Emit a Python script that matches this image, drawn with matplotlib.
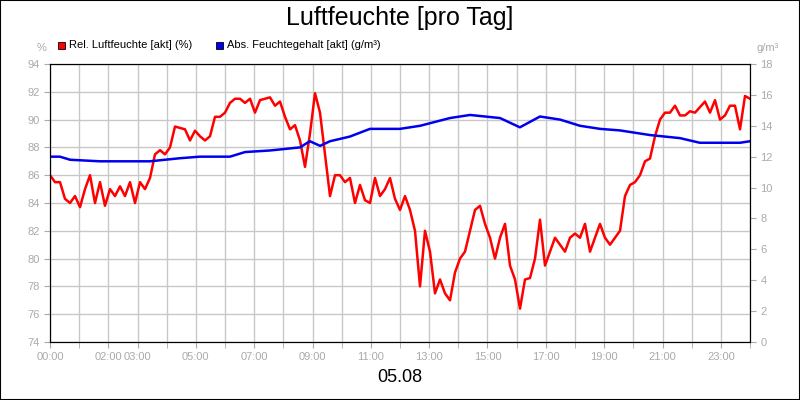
import numpy as np
import matplotlib.pyplot as plt
from matplotlib.patches import Rectangle

plt.rcParams.update({"font.family": "Liberation Sans", "font.size": 8})

rel_feuchte = [
    86.0, 85.5, 85.5, 84.3, 84.0, 84.5, 83.7, 85.0, 86.0, 84.0,
    85.5, 83.8, 85.0, 84.5, 85.2, 84.5, 85.5, 84.0, 85.5, 85.0,
    85.8, 87.5, 87.8, 87.5, 88.0, 89.5, 89.4, 89.3, 88.5, 89.2,
    88.8, 88.5, 88.8, 90.2, 90.2, 90.5, 91.2, 91.5, 91.5, 91.2,
    91.5, 90.5, 91.4, 91.5, 91.6, 91.0, 91.3, 90.2, 89.3, 89.6,
    88.5, 86.6, 89.0, 91.9, 90.5, 87.5, 84.5, 86.0, 86.0, 85.5,
    85.8, 84.0, 85.3, 84.2, 84.0, 85.8, 84.5, 85.0, 85.8, 84.3,
    83.5, 84.5, 83.5, 82.0, 78.0, 82.0, 80.5, 77.5, 78.5, 77.5,
    77.0, 79.0, 80.0, 80.5, 82.0, 83.5, 83.8, 82.5, 81.5, 80.0,
    81.5, 82.5, 79.5, 78.5, 76.4, 78.5, 78.6, 80.0, 82.8, 79.5,
    80.5, 81.5, 81.0, 80.5, 81.5, 81.8, 81.5, 82.5, 80.5, 81.5,
    82.5, 81.5, 81.0, 81.5, 82.0, 84.5, 85.3, 85.5, 86.0, 87.0,
    87.2, 88.8, 90.0, 90.5, 90.5, 91.0, 90.3, 90.3, 90.6, 90.5,
    90.9, 91.3, 90.5, 91.4, 90.0, 90.3, 91.0, 91.0, 89.3, 91.7,
    91.5,
]
rel_zeit = np.linspace(0, 24, len(rel_feuchte))

abs_zeit = [0, 0.34, 0.69, 1.71, 3.43, 4.46, 5.14, 6.17, 6.69, 7.54, 8.57,
            8.91, 9.26, 9.6, 10.28, 10.97, 12.0, 12.69, 13.71, 14.4, 15.43,
            16.11, 16.8, 17.49, 18.17, 18.86, 19.54, 20.57, 21.6, 22.28,
            22.97, 23.66, 24.0]
abs_feuchte = [12.0, 12.0, 11.8, 11.7, 11.7, 11.9, 12.0, 12.0, 12.3, 12.4,
               12.6, 13.0, 12.7, 13.0, 13.3, 13.8, 13.8, 14.0, 14.5, 14.7,
               14.5, 13.9, 14.6, 14.4, 14.0, 13.8, 13.7, 13.4, 13.2, 12.9,
               12.9, 12.9, 13.0]

tick_stunden = [0, 2, 3, 5, 7, 9, 11, 13, 15, 17, 19, 21, 23]
tick_labels = [f"{h:02d}:00" for h in tick_stunden]

gray = "#aaaaaa"
fig = plt.figure(figsize=(8, 4), dpi=100)
fig.patches.append(Rectangle((0, 0), 1, 1, transform=fig.transFigure,
                             fill=False, ec="black", lw=1.5))
ax = fig.add_axes([50 / 800, 58 / 400, 700 / 800, 278 / 400])
ax2 = ax.twinx()

ax.plot(rel_zeit, rel_feuchte, color="#ff0000", lw=1.8, zorder=3)
ax2.plot(abs_zeit, abs_feuchte, color="#0000ee", lw=1.8)

ax.set_xlim(0, 24)
ax.set_ylim(74, 94)
ax2.set_ylim(0, 18)
ax.set_yticks(range(74, 95, 2))
ax2.set_yticks(range(0, 19, 2))
ax.set_xticks(range(0, 25), minor=True)
ax.set_xticks(tick_stunden)
ax.set_xticklabels(tick_labels)
ax.grid(True, which="both", axis="x", color="#c8c8c8", lw=1)
ax.grid(True, axis="y", color="#c8c8c8", lw=1)
ax.set_axisbelow(True)
for a in (ax, ax2):
    a.tick_params(colors=gray, labelcolor=gray, labelsize=8, length=4, which="both")
    for s in a.spines.values():
        s.set_color("black")
ax.tick_params(which="minor", length=4)

fig.text(0.5, 0.955, "Luftfeuchte [pro Tag]", ha="center", va="center", fontsize=18)
fig.text(0.5, 0.055, "05.08", ha="center", va="center", fontsize=13)
fig.text(42 / 800, 1 - 48 / 400, "%", ha="center", va="center", color=gray, fontsize=8)
fig.text(768 / 800, 1 - 48 / 400, "g/m³", ha="center", va="center", color=gray, fontsize=8)

fig.patches.append(Rectangle((58 / 800, 1 - 49 / 400), 7 / 800, 7 / 400,
                             transform=fig.transFigure, fc="#ff0000", ec="black", lw=0.6))
fig.text(69 / 800, 1 - 45 / 400, "Rel. Luftfeuchte [akt] (%)", va="center", fontsize=8)
fig.patches.append(Rectangle((216 / 800, 1 - 49 / 400), 7 / 800, 7 / 400,
                             transform=fig.transFigure, fc="#0000ee", ec="black", lw=0.6))
fig.text(227 / 800, 1 - 45 / 400, "Abs. Feuchtegehalt [akt] (g/m³)", va="center", fontsize=8)

fig.savefig("out.png", dpi=100)
